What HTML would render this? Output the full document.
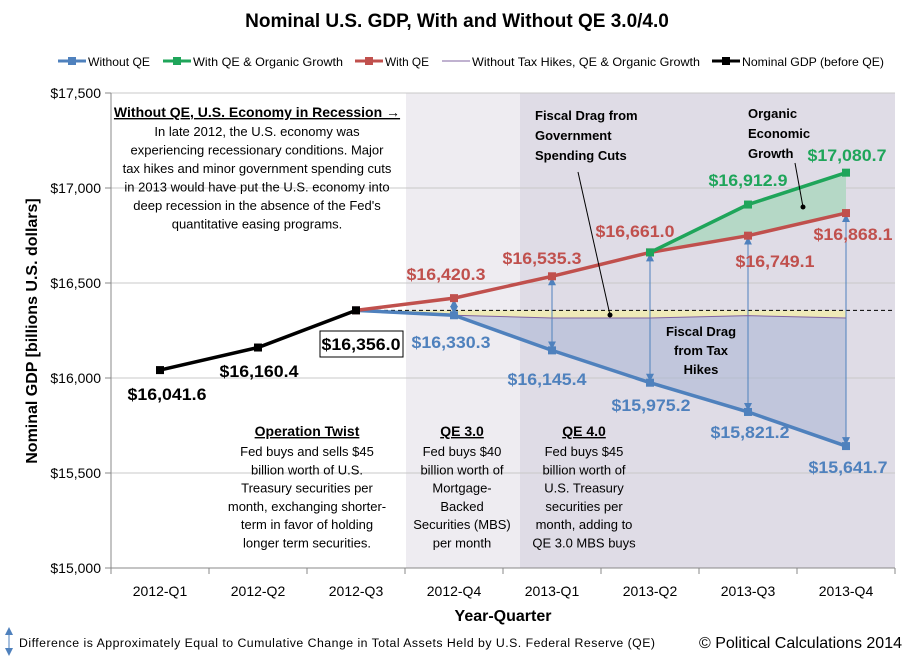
<!DOCTYPE html>
<html><head><meta charset="utf-8"><style>
body{margin:0;background:#fff;}
svg{display:block;font-family:"Liberation Sans",sans-serif;}
</style></head><body>
<svg id="c" width="914" height="664" viewBox="0 0 914 664"></svg>
<script>
const categories=["2012-Q1","2012-Q2","2012-Q3","2012-Q4","2013-Q1","2013-Q2","2013-Q3","2013-Q4"];
const beforeQE=[16041.6,16160.4,16356.0];
const withoutQE=[null,null,16356.0,16330.3,16145.4,15975.2,15821.2,15641.7];
const withQE=[null,null,16356.0,16420.3,16535.3,16661.0,16749.1,16868.1];
const withQEOrganic=[null,null,null,null,null,16661.0,16912.9,17080.7];
const noTaxHikes=[null,null,16356.0,16330.3,16316,16316,16328,16316];
const yTicks=[15000,15500,16000,16500,17000,17500];
const yTickLabels=["$15,000","$15,500","$16,000","$16,500","$17,000","$17,500"];

const NS="http://www.w3.org/2000/svg";
const svg=document.getElementById('c');
const L=111,R=895,T=93,B=568;
const bw=(R-L)/categories.length;
function x(i){return L+bw*(i+0.5);}
function y(v){return B-(v-15000)/2500*(B-T);}
function el(tag,attrs,parent){const e=document.createElementNS(NS,tag);for(const k in attrs)e.setAttribute(k,attrs[k]);(parent||svg).appendChild(e);return e;}
function txt(s,px,py,o){const e=el('text',Object.assign({x:px,y:py,'font-size':13,'text-anchor':'middle',fill:'#000'},o||{}));e.textContent=s;return e;}

let r=el('rect',{x:406,y:T,width:R-406,height:B-T,fill:'#eeecf1'});

r=el('rect',{x:520,y:T,width:R-520,height:B-T,fill:'#dfdce6'});


yTicks.forEach((v,i)=>{
  const g=el('line',{x1:L,x2:R,y1:y(v),y2:y(v),stroke:'#c8c8c8','stroke-width':1});
  
  el('line',{x1:L-6,x2:L,y1:y(v),y2:y(v),stroke:'#888'});
  const t=txt(yTickLabels[i],L-10,y(v)+5,{'text-anchor':'end','font-size':14});
  
});
el('line',{x1:L,x2:L,y1:T,y2:B,stroke:'#888'});
el('line',{x1:L,x2:R,y1:B,y2:B,stroke:'#888'});
for(let i=0;i<=categories.length;i++)el('line',{x1:L+bw*i,x2:L+bw*i,y1:B,y2:B+6,stroke:'#888'});
categories.forEach((c,i)=>{const t=txt(c,x(i),B+28,{'font-size':14});});

function pts(arr){const p=[];arr.forEach((v,i)=>{if(v!=null)p.push([x(i),y(v)]);});return p;}
{const p=pts(noTaxHikes);let d='M'+p.map(a=>a.join(',')).join(' L')+' L'+p[p.length-1][0]+','+y(16356)+' L'+p[0][0]+','+y(16356)+'Z';
const a=el('path',{d:d,fill:'#efeab8'});}
{const p1=pts(noTaxHikes).slice(1),p2=pts(withoutQE).slice(1).reverse();
const d='M'+p1.concat(p2).map(a=>a.join(',')).join(' L')+'Z';
const a=el('path',{d:d,fill:'#a8b4d4','fill-opacity':0.55});}
{const p1=pts(withQEOrganic),p2=[5,6,7].map(i=>[x(i),y(withQE[i])]).reverse();
const d='M'+p1.concat(p2).map(a=>a.join(',')).join(' L')+'Z';
const a=el('path',{d:d,fill:'#b5d8c6'});}
{const d=el('line',{x1:x(2),x2:R,y1:y(16356),y2:y(16356),stroke:'#000','stroke-dasharray':'4,3'});}

const defs=el('defs',{});
const m=el('marker',{id:'ah',markerWidth:8,markerHeight:8,refX:4,refY:4,orient:'auto-start-reverse',markerUnits:'userSpaceOnUse'},defs);
el('path',{d:'M0,0 L8,4 L0,8 Z',fill:'#4f81bd'},m);
for(let i=3;i<8;i++){
  const a=el('line',{x1:x(i),x2:x(i),y1:y(withQE[i])+5,y2:y(withoutQE[i])-5,stroke:'#4f81bd','stroke-width':1,'marker-start':'url(#ah)','marker-end':'url(#ah)'});
  
}

function series(arr,color,name,w,mk){
  const p=pts(arr);
  const l=el('polyline',{points:p.map(a=>a.join(',')).join(' '),fill:'none',stroke:color,'stroke-width':w});
  
  if(mk)p.forEach(a=>{const s=el('rect',{x:a[0]-4,y:a[1]-4,width:8,height:8,fill:color});});
}
series(noTaxHikes,'#8064a2','no-tax-hikes',1,false);
series(withoutQE,'#4f81bd','without-qe',3.5,true);
series(withQE,'#c0504d','with-qe',3.5,true);
series(withQEOrganic,'#1fa55a','with-qe-organic',3.5,true);
series(beforeQE,'#000','nominal-gdp-before-qe',3.5,true);

el('line',{x1:578,y1:172,x2:610,y2:315,stroke:'#000'});el('circle',{cx:610,cy:315,r:2.5,fill:'#000'});
el('line',{x1:795,y1:163,x2:803,y2:207,stroke:'#000'});el('circle',{cx:803,cy:207,r:2.5,fill:'#000'});

function lab(s,px,py,color,name,o){const t=txt(s,px,py,Object.assign({'font-size':17,'font-weight':'bold',fill:color,textLength:79,lengthAdjust:'spacingAndGlyphs'},o||{}));}
lab('$16,041.6',167,400,'#000','label-2012q1');
lab('$16,160.4',259,377,'#000','label-2012q2');
el('rect',{x:320,y:331,width:83,height:26,fill:'#fff',stroke:'#000'});
lab('$16,356.0',361,350,'#000','label-2012q3');
lab('$16,420.3',446,280,'#c0504d','label-withqe-q4');
lab('$16,535.3',542,264,'#c0504d','label-withqe-2013q1');
lab('$16,661.0',635,237,'#c0504d','label-withqe-2013q2');
lab('$16,749.1',775,267,'#c0504d','label-withqe-2013q3');
lab('$16,868.1',853,240,'#c0504d','label-withqe-2013q4');
lab('$16,912.9',748,186,'#1fa55a','label-organic-2013q3');
lab('$17,080.7',847,161,'#1fa55a','label-organic-2013q4');
lab('$16,330.3',451,348,'#4f81bd','label-withoutqe-q4');
lab('$16,145.4',547,385,'#4f81bd','label-withoutqe-2013q1');
lab('$15,975.2',651,411,'#4f81bd','label-withoutqe-2013q2');
lab('$15,821.2',750,438,'#4f81bd','label-withoutqe-2013q3');
lab('$15,641.7',848,473,'#4f81bd','label-withoutqe-2013q4');

function block(lines,px,py,lh,o,name){const g=el('g',{});
 lines.forEach((s,i)=>{const t=txt(s,px,py+i*lh,Object.assign({'font-size':13},o||{}));g.appendChild(t);});}
block(['Without QE, U.S. Economy in Recession →'],257,117,18,{'font-weight':'bold','font-size':14,'text-decoration':'underline'},'recession-heading');
block(['In late 2012, the U.S. economy was','experiencing recessionary conditions.  Major','tax hikes and minor government spending cuts','in 2013  would have put the U.S. economy into','deep recession in the absence of the Fed\'s','quantitative easing programs.'],257,136,18.5,{},'recession-note');
block(['Fiscal Drag from','Government','Spending Cuts'],535,120,20,{'font-weight':'bold','text-anchor':'start'},'spending-cuts-note');
block(['Organic','Economic','Growth'],748,118,20,{'font-weight':'bold','text-anchor':'start'},'organic-growth-note');
block(['Fiscal Drag','from Tax','Hikes'],701,336,19,{'font-weight':'bold'},'tax-hikes-note');
block(['Operation Twist'],307,436,18,{'font-weight':'bold','font-size':14,'text-decoration':'underline'},'op-twist-heading');
block(['Fed buys and sells $45','billion worth of U.S.','Treasury securities per','month, exchanging shorter-','term in favor of holding','longer term securities.'],307,456,18.3,{},'op-twist-note');
block(['QE 3.0'],462,436,18,{'font-weight':'bold','font-size':14,'text-decoration':'underline'},'qe3-heading');
block(['Fed buys $40','billion worth of','Mortgage-','Backed','Securities (MBS)','per month'],462,456,18.3,{},'qe3-note');
block(['QE 4.0'],584,436,18,{'font-weight':'bold','font-size':14,'text-decoration':'underline'},'qe4-heading');
block(['Fed buys $45','billion worth of','U.S. Treasury','securities per','month, adding to','QE 3.0 MBS buys'],584,456,18.3,{},'qe4-note');

{const t=txt('Nominal U.S. GDP, With and Without QE 3.0/4.0',457,27,{'font-size':19,'font-weight':'bold'});}
{const t=txt('Year-Quarter',503,621,{'font-size':16,'font-weight':'bold'});}
{const t=txt('Nominal GDP [billions U.S. dollars]',0,0,{'font-size':16,'font-weight':'bold',transform:'translate(37,331) rotate(-90)'});}

const legend=[['Without QE','#4f81bd',true,58,62],['With QE & Organic Growth','#1fa55a',true,163,150],['With QE','#c0504d',true,355,44],['Without Tax Hikes, QE & Organic Growth','#8064a2',false,442,228],['Nominal GDP (before QE)','#000',true,712,142]];
legend.forEach(([n,c,mk,lx,tw])=>{const g=el('g',{});
 el('line',{x1:lx,x2:lx+28,y1:61,y2:61,stroke:c,'stroke-width':mk?3:1},g);
 if(mk)el('rect',{x:lx+10,y:57,width:8,height:8,fill:c},g);
 const t=txt(n,lx+30,66,{'text-anchor':'start','font-size':12,textLength:tw,lengthAdjust:'spacingAndGlyphs'});g.appendChild(t);});

el('line',{x1:9,x2:9,y1:631,y2:652,stroke:'#4f81bd','marker-start':'url(#ah)','marker-end':'url(#ah)'});
{const t=txt('Difference is Approximately Equal to Cumulative Change in Total Assets Held by U.S. Federal Reserve (QE)',19,647,{'text-anchor':'start','font-size':12.3,textLength:636});}
{const t=txt('© Political Calculations 2014',902,648,{'text-anchor':'end','font-size':16});}
</script>
</body></html>
